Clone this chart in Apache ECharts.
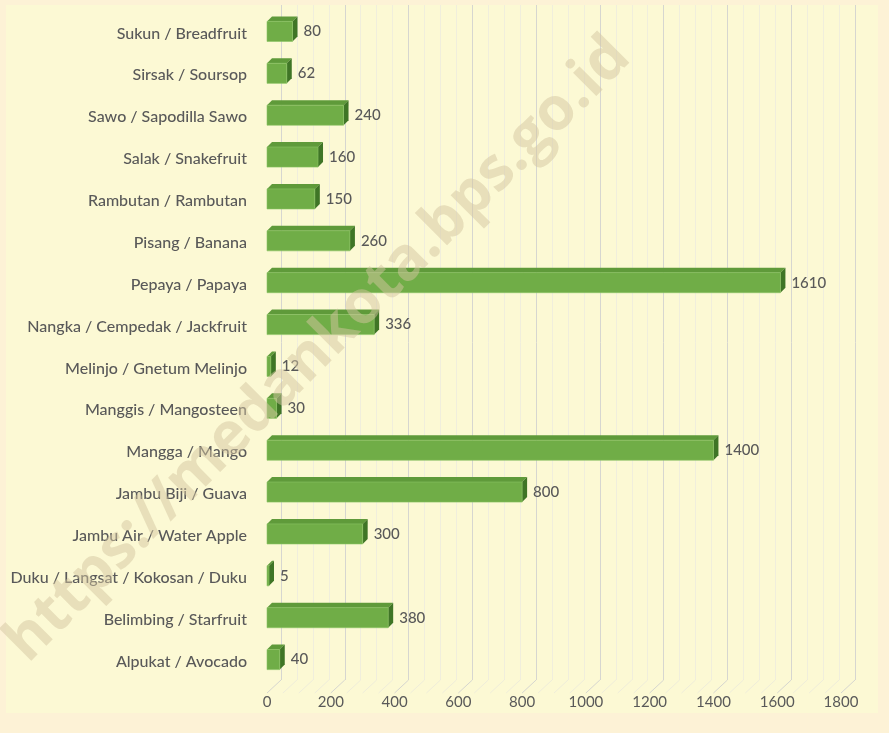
<!DOCTYPE html>
<html>
<head>
<meta charset="utf-8">
<script src="https://cdn.jsdelivr.net/npm/echarts@6/dist/echarts.min.js"></script>
<style>
html, body { margin: 0; padding: 0; background: #fdf2d6; }
#chart { width: 889px; height: 733px; }
</style>
</head>
<body>
<div id="chart"></div>
<script>
// bottom -> top, as ECharts category axis draws them
var fruitNames = [
    'Alpukat / Avocado',
    'Belimbing / Starfruit',
    'Duku / Langsat / Kokosan / Duku',
    'Jambu Air / Water Apple',
    'Jambu Biji / Guava',
    'Mangga / Mango',
    'Manggis / Mangosteen',
    'Melinjo / Gnetum Melinjo',
    'Nangka / Cempedak / Jackfruit',
    'Pepaya / Papaya',
    'Pisang / Banana',
    'Rambutan / Rambutan',
    'Salak / Snakefruit',
    'Sawo / Sapodilla Sawo',
    'Sirsak / Soursop',
    'Sukun / Breadfruit'
];
var fruitValues = [40, 380, 5, 300, 800, 1400, 30, 12, 336, 1610, 260, 150, 160, 240, 62, 80];
var xTicks = [0, 200, 400, 600, 800, 1000, 1200, 1400, 1600, 1800];

var myChart = echarts.init(document.getElementById('chart'));

var depth = 5; // fake 3d depth of bars

function renderBar(params, api) {
    var cat = api.value(0);
    var val = api.value(1);
    var start = api.coord([0, cat]);
    var end = api.coord([val, cat]);
    var h = api.size([0, 1])[1] * 0.48;
    var x0 = start[0], x1 = end[0], y0 = start[1] - h / 2 + depth / 2;
    var w = Math.max(x1 - x0, 2);
    return {
        type: 'group',
        children: [
            {
                type: 'polygon',
                shape: { points: [[x0, y0], [x0 + depth, y0 - depth], [x0 + w + depth, y0 - depth], [x0 + w, y0]] },
                style: { fill: '#5f9a3a' }
            },
            {
                type: 'polygon',
                shape: { points: [[x0 + w, y0], [x0 + w + depth, y0 - depth], [x0 + w + depth, y0 + h - depth], [x0 + w, y0 + h]] },
                style: { fill: '#3f7526' }
            },
            {
                type: 'rect',
                shape: { x: x0, y: y0, width: w, height: h },
                style: { fill: '#70ad47', stroke: '#8cc465', lineWidth: 0.6 }
            },
            {
                type: 'text',
                style: {
                    text: String(val),
                    x: x0 + w + depth + 6,
                    y: y0 + h / 2,
                    verticalAlign: 'middle',
                    fill: '#595959',
                    font: '500 15px Lato'
                }
            }
        ]
    };
}

// slanted floor lines under the back-wall gridlines
function renderFloor(params, api) {
    var v = api.value(0);
    var top = api.coord([v, 0]);
    var yb = params.coordSys.y + params.coordSys.height;
    var major = v % 200 === 0;
    return {
        type: 'line',
        shape: { x1: top[0], y1: yb, x2: top[0] - 14, y2: yb + 13 },
        style: { stroke: major ? '#d6d6d0' : '#efedda', lineWidth: 1 }
    };
}

var barData = [];
for (var i = 0; i < fruitValues.length; i++) {
    barData.push([i, fruitValues[i]]);
}
var floorData = [];
for (var g = 0; g <= 1800; g += 50) {
    floorData.push([g, 0]);
}

myChart.setOption({
    backgroundColor: '#fdf2d6',
    animation: false,
    graphic: [
        {
            type: 'rect',
            z: -10,
            shape: { x: 6, y: 5, width: 872, height: 708 },
            style: { fill: '#fcf9d4' }
        },
        {
            type: 'text',
            z: 100,
            x: 16,
            y: 652,
            rotation: Math.PI / 4,
            style: {
                text: 'https://medankota.bps.go.id',
                font: 'bold 60px "Open Sans"',
                fill: 'rgba(212, 198, 160, 0.5)',
                verticalAlign: 'middle'
            }
        }
    ],
    grid: [
        { left: 267, width: 574, top: 8, height: 670 },
        { left: 281, width: 574, top: 5, height: 675 }
    ],
    xAxis: [
        {
            type: 'value',
            gridIndex: 0,
            min: 0,
            max: 1800,
            interval: 200,
            axisLine: { show: false },
            axisTick: { show: false },
            splitLine: { show: false },
            axisLabel: {
                margin: 17,
                color: '#595959',
                fontFamily: 'Lato',
                fontSize: 15,
                customValues: xTicks,
                formatter: function (v) { return String(v); }
            }
        },
        {
            type: 'value',
            gridIndex: 1,
            min: 0,
            max: 1800,
            interval: 200,
            axisLine: { show: false },
            axisTick: { show: false },
            axisLabel: { show: false },
            splitLine: { show: true, lineStyle: { color: '#d6d6d0', width: 1 } },
            minorTick: { show: false, splitNumber: 4 },
            minorSplitLine: { show: true, lineStyle: { color: '#f0eedc', width: 1 } }
        }
    ],
    yAxis: [
        {
            type: 'category',
            gridIndex: 0,
            data: fruitNames,
            axisLine: { show: false },
            axisTick: { show: false },
            axisLabel: {
                margin: 20,
                formatter: function (v) { return '{n|' + v + '}'; },
                rich: {
                    n: {
                        color: '#595959',
                        fontFamily: 'Lato',
                        fontWeight: 500,
                        fontSize: 16,
                        padding: [9, 0, 0, 0]
                    }
                }
            }
        },
        {
            type: 'category',
            gridIndex: 1,
            data: fruitNames,
            show: false
        }
    ],
    series: [
        {
            type: 'custom',
            xAxisIndex: 1,
            yAxisIndex: 1,
            renderItem: renderFloor,
            data: floorData,
            silent: true,
            z: 1
        },
        {
            type: 'custom',
            xAxisIndex: 0,
            yAxisIndex: 0,
            renderItem: renderBar,
            data: barData,
            z: 10
        }
    ]
});
</script>
</body>
</html>
